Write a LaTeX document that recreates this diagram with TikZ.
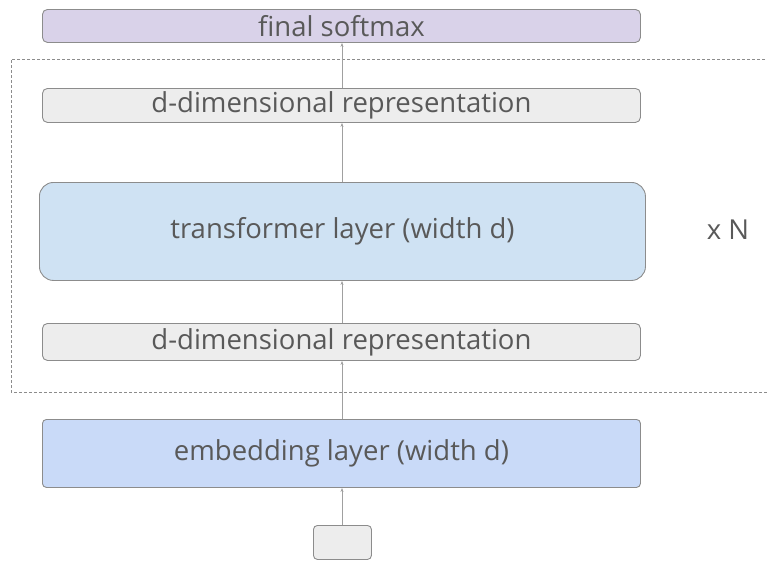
\documentclass[tikz,border=0pt]{standalone}
\usepackage{fontspec}
\setmainfont{Open Sans}
\usetikzlibrary{arrows.meta}
\definecolor{txt}{HTML}{595959}
\definecolor{edge}{HTML}{8C8C8C}
\definecolor{arr}{HTML}{A0A0A0}
\definecolor{purp}{HTML}{D9D2E9}
\definecolor{grayf}{HTML}{EDEDED}
\definecolor{tblue}{HTML}{CFE2F3}
\definecolor{eblue}{HTML}{C9DAF8}
\tikzset{
  lbl/.style={text=txt, font=\fontsize{27.5}{32}\selectfont},
  blk/.style={lbl, draw=edge, line width=0.9pt, inner sep=0pt, anchor=north west},
  conn/.style={draw=arr, line width=0.8pt, -{Stealth[length=4pt,width=3pt]}},
}
\begin{document}
\begin{tikzpicture}[x=1pt,y=-1pt]
\useasboundingbox (0,0) rectangle (767,560);
\begin{scope}
\clip (0,0) rectangle (767,560);
\draw[edge, dashed, line width=0.7pt, dash pattern=on 3pt off 2pt] (780,59) -- (11,59) -- (11,392) -- (780,392);
\end{scope}
\node[blk, fill=purp, rounded corners=5pt, minimum width=598pt, minimum height=33pt] (soft) at (42,9) {final softmax};
\node[blk, fill=grayf, rounded corners=5pt, minimum width=598pt, minimum height=34pt] (rep2) at (42,88) {d-dimensional representation};
\node[blk, fill=tblue, rounded corners=14pt, minimum width=606pt, minimum height=98pt] (trans) at (39,182) {transformer layer (width d)};
\node[blk, fill=grayf, rounded corners=5pt, minimum width=598pt, minimum height=37pt] (rep1) at (42,323) {d-dimensional representation};
\node[blk, fill=eblue, rounded corners=4pt, minimum width=598pt, minimum height=68pt] (emb) at (42,419) {embedding layer (width d)};
\node[blk, fill=grayf, rounded corners=4pt, minimum width=58pt, minimum height=34pt] (inp) at (313,525) {};
\node[lbl, inner sep=0pt] (xn) at (728,230) {x N};
\coordinate (c1) at (342,525);
\draw[conn] (c1) -- (c1 |- emb.south);
\draw[conn] (c1 |- emb.north) -- (c1 |- rep1.south);
\draw[conn] (c1 |- rep1.north) -- (c1 |- trans.south);
\draw[conn] (c1 |- trans.north) -- (c1 |- rep2.south);
\draw[conn] (c1 |- rep2.north) -- (c1 |- soft.south);
\end{tikzpicture}
\end{document}
